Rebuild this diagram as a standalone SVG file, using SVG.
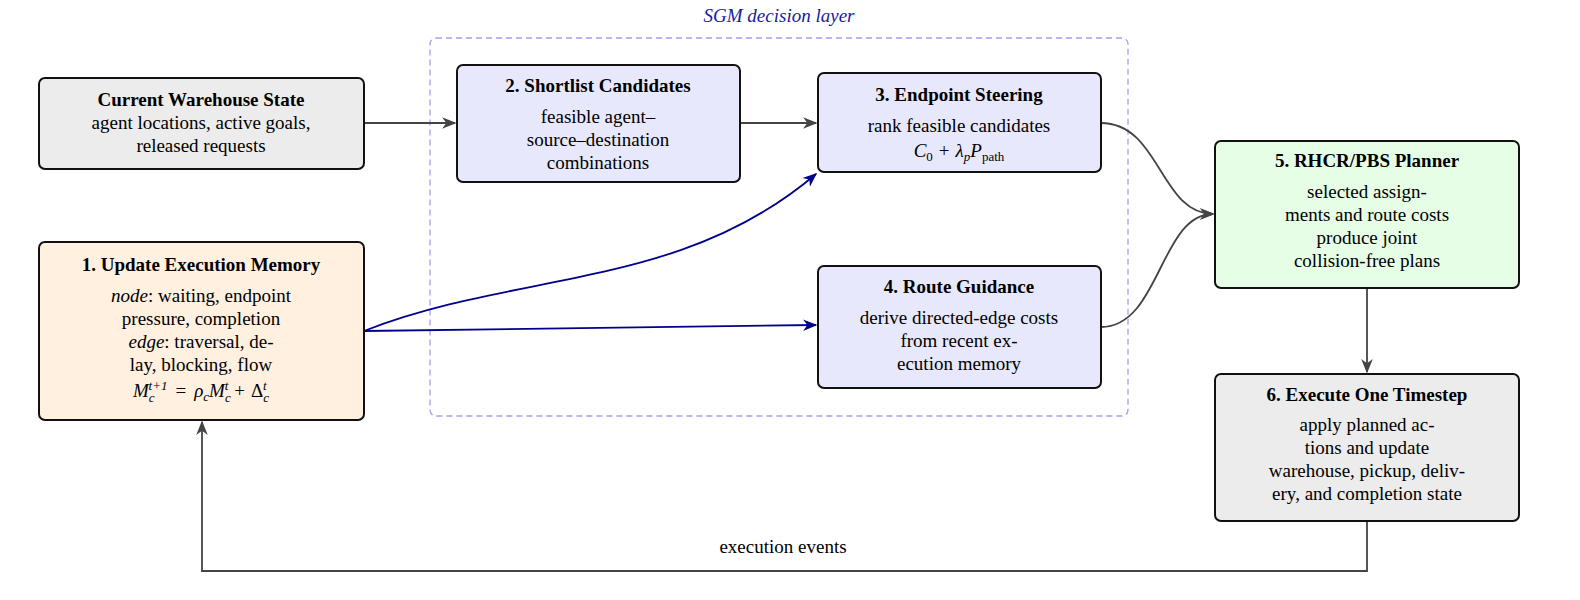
<svg xmlns="http://www.w3.org/2000/svg" width="1580" height="600" viewBox="0 0 1580 600">
<style>
text{font-family:"Liberation Serif",serif;font-size:19px;text-anchor:middle;fill:#000}
.t{font-weight:bold;font-size:19px}
.i{font-style:italic}
.s{font-size:13px}
.box{stroke:#111;stroke-width:2}
.g{fill:none;stroke:#444;stroke-width:1.8}
.b{fill:none;stroke:#00008b;stroke-width:1.8}
</style>
<defs>
<marker id="ag" viewBox="0 0 10 10" refX="9" refY="5" markerWidth="8" markerHeight="8" orient="auto"><path d="M0,1 L10,5 L0,9 L3,5 Z" fill="#444"/></marker>
<marker id="ab" viewBox="0 0 10 10" refX="9" refY="5" markerWidth="8" markerHeight="8" orient="auto"><path d="M0,1 L10,5 L0,9 L3,5 Z" fill="#00008b"/></marker>
</defs>
<g id="sgm-layer">
<rect x="430" y="38" width="698" height="378" rx="6" fill="none" stroke="#a0a0f0" stroke-width="1.3" stroke-dasharray="6,4"/>
<text x="779" y="22" class="i" style="fill:#1a1aa0">SGM decision layer</text>
</g>
<g id="connectors">
<path class="g" d="M364,123 L455,123" marker-end="url(#ag)"/>
<path class="g" d="M740,123 L816,123" marker-end="url(#ag)"/>
<path class="g" d="M1101,123 C1160,123 1160,214 1213,214" marker-end="url(#ag)"/>
<path class="g" d="M1101,327 C1160,327 1160,214 1213,214" marker-end="url(#ag)"/>
<path class="g" d="M1367,288 L1367,372" marker-end="url(#ag)"/>
<path class="g" d="M1367,521 L1367,571 L202,571 L202,422" marker-end="url(#ag)"/>
<text x="783" y="553">execution events</text>
<path class="b" d="M364,331 L816,325" marker-end="url(#ab)"/>
<path class="b" d="M364,331 C520,270 680,290 816,174" marker-end="url(#ab)"/>
</g>
<g id="state">
<rect class="box" x="39" y="78" width="325" height="91" rx="6" fill="#ececec"/>
<text x="201" y="106" class="t">Current Warehouse State</text>
<text x="201" y="129">agent locations, active goals,</text>
<text x="201" y="152">released requests</text>
</g>
<g id="n2">
<rect class="box" x="457" y="65" width="283" height="117" rx="6" fill="#e8e8fc"/>
<text x="598" y="92" class="t">2. Shortlist Candidates</text>
<text x="598" y="123">feasible agent–</text>
<text x="598" y="146">source–destination</text>
<text x="598" y="169">combinations</text>
</g>
<g id="n3">
<rect class="box" x="818" y="73" width="283" height="99" rx="6" fill="#e8e8fc"/>
<text x="959" y="101" class="t">3. Endpoint Steering</text>
<text x="959" y="132">rank feasible candidates</text>
<text x="959" y="157" class="i">C<tspan font-style="normal" class="s" dy="4">0</tspan><tspan dy="-4" dx="6" font-style="normal">+</tspan><tspan dx="6">λ</tspan><tspan class="s" dy="4">p</tspan><tspan dy="-4">P</tspan><tspan font-style="normal" class="s" dy="4">path</tspan></text>
</g>
<g id="n4">
<rect class="box" x="818" y="266" width="283" height="122" rx="6" fill="#e8e8fc"/>
<text x="959" y="293" class="t">4. Route Guidance</text>
<text x="959" y="324">derive directed-edge costs</text>
<text x="959" y="347">from recent ex-</text>
<text x="959" y="370">ecution memory</text>
</g>
<g id="n1">
<rect class="box" x="39" y="242" width="325" height="178" rx="6" fill="#fff0e0"/>
<text x="201" y="271" class="t">1. Update Execution Memory</text>
<text x="201" y="302"><tspan class="i">node</tspan>: waiting, endpoint</text>
<text x="201" y="325">pressure, completion</text>
<text x="201" y="348"><tspan class="i">edge</tspan>: traversal, de-</text>
<text x="201" y="371">lay, blocking, flow</text>
<text x="201" y="397" class="i">M<tspan class="s" dy="5">c</tspan><tspan class="s" dx="-6" dy="-12">t+1</tspan><tspan dy="7" dx="8" font-style="normal">=</tspan><tspan dx="8">ρ</tspan><tspan class="s" dy="4">c</tspan><tspan dy="-4">M</tspan><tspan class="s" dy="5">c</tspan><tspan class="s" dx="-6" dy="-12">t</tspan><tspan dy="7" dx="6" font-style="normal">+</tspan><tspan dx="6" font-style="normal">Δ</tspan><tspan class="s" dy="5">c</tspan><tspan class="s" dx="-6" dy="-12">t</tspan></text>
</g>
<g id="n5">
<rect class="box" x="1215" y="141" width="304" height="147" rx="6" fill="#e6fde6"/>
<text x="1367" y="167" class="t">5. RHCR/PBS Planner</text>
<text x="1367" y="198">selected assign-</text>
<text x="1367" y="221">ments and route costs</text>
<text x="1367" y="244">produce joint</text>
<text x="1367" y="267">collision-free plans</text>
</g>
<g id="n6">
<rect class="box" x="1215" y="374" width="304" height="147" rx="6" fill="#ececec"/>
<text x="1367" y="401" class="t">6. Execute One Timestep</text>
<text x="1367" y="431">apply planned ac-</text>
<text x="1367" y="454">tions and update</text>
<text x="1367" y="477">warehouse, pickup, deliv-</text>
<text x="1367" y="500">ery, and completion state</text>
</g>
</svg>
